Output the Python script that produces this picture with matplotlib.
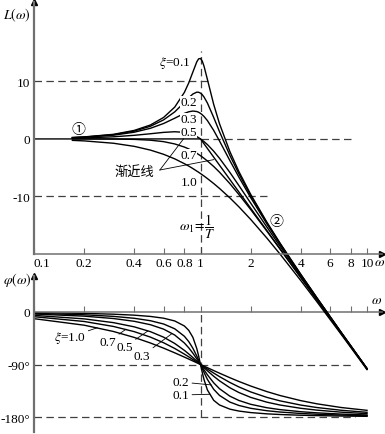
import matplotlib
matplotlib.use('Agg')
import matplotlib.pyplot as plt
from matplotlib.ticker import NullLocator

# Bode plot of a second order lag, magnitude (top) and phase (bottom)

plt.rcParams['font.family'] = ['Liberation Serif', 'Noto Sans CJK SC', 'DejaVu Sans']
plt.rcParams['mathtext.fontset'] = 'stix'
plt.rcParams['axes.unicode_minus'] = False
plt.rcParams['font.size'] = 9.5

ZETA_LABELS = ['0.1', '0.2', '0.3', '0.5', '0.7', '1.0']

# magnitude L(w) in dB
W_MAG = [0.17, 0.2, 0.3, 0.4, 0.5, 0.6, 0.7, 0.8, 0.85, 0.9, 0.95, 0.975, 1.0, 1.025, 1.05,
         1.1, 1.2, 1.3, 1.5, 1.7, 2.0, 2.5, 3.0, 4.0, 5.0, 7.0, 10.0]
L_Z01 = [0.25, 0.35, 0.80, 1.48, 2.42, 3.73, 5.53, 8.09, 9.75, 11.64, 13.41, 13.93, 13.98, 13.51, 12.63,
         10.34, 6.00, 2.65, -2.18, -5.67, -9.62, -14.44, -18.09, -23.53, -27.61, -33.63, -39.91]
L_Z02 = [0.23, 0.32, 0.74, 1.36, 2.20, 3.31, 4.70, 6.35, 7.15, 7.81, 8.13, 8.11, 7.96, 7.68, 7.28,
         6.24, 3.73, 1.27, -2.84, -6.06, -9.84, -14.56, -18.16, -23.57, -27.63, -33.64, -39.92]
L_Z03 = [0.21, 0.29, 0.65, 1.17, 1.85, 2.68, 3.60, 4.44, 4.72, 4.85, 4.76, 4.63, 4.44, 4.19, 3.90,
         3.19, 1.48, -0.35, -3.75, -6.64, -10.19, -14.74, -18.28, -23.63, -27.67, -33.66, -39.93]
L_Z05 = [0.12, 0.17, 0.37, 0.63, 0.90, 1.14, 1.25, 1.14, 0.97, 0.73, 0.40, 0.21, 0.00, -0.23, -0.47,
         -0.98, -2.13, -3.36, -5.81, -8.10, -11.14, -15.29, -18.63, -23.82, -27.79, -33.72, -39.96]
L_Z07 = [0.00, 0.00, -0.02, -0.08, -0.22, -0.47, -0.87, -1.41, -1.74, -2.11, -2.50, -2.71, -2.92, -3.14, -3.37,
         -3.83, -4.79, -5.78, -7.76, -9.66, -12.26, -16.00, -19.12, -24.09, -27.96, -33.80, -40.00]
L_Z10 = [-0.25, -0.34, -0.75, -1.29, -1.94, -2.67, -3.46, -4.30, -4.72, -5.15, -5.59, -5.80, -6.02, -6.24, -6.45,
         -6.89, -7.75, -8.60, -10.24, -11.80, -13.98, -17.21, -20.00, -24.61, -28.30, -33.98, -40.09]

# asymptote: 0 dB then -40 dB/dec
W_ASYM = [0.1, 1.0, 10.0]
L_ASYM = [0.0, 0.0, -40.0]

# phase in degrees
W_PH = [0.1, 0.2, 0.3, 0.4, 0.5, 0.6, 0.7, 0.8, 0.85, 0.9, 0.95, 0.975, 1.0, 1.025,
        1.05, 1.1, 1.2, 1.3, 1.5, 1.7, 2.0, 2.5, 3.0, 4.0, 5.0, 7.0, 10.0]
PHI_Z01 = [-1.16, -2.39, -3.77, -5.44, -7.60, -10.62, -15.35, -23.96, -31.49, -43.45, -62.83, -75.79, -90.0,
           -103.87, -116.02, -133.67, -151.39, -159.35, -166.50, -169.80, -172.40, -174.56, -175.71,
           -176.95, -177.61, -178.33, -178.84]
PHI_Z02 = [-2.31, -4.76, -7.51, -10.78, -14.93, -20.56, -28.77, -41.63, -50.79, -62.18, -75.61, -82.78, -90.0,
           -97.04, -103.71, -115.51, -132.51, -143.00, -154.36, -160.21, -165.07, -169.22, -171.47,
           -173.91, -175.24, -176.66, -177.69]
PHI_Z03 = [-3.47, -7.13, -11.19, -15.95, -21.80, -29.36, -39.47, -53.13, -61.45, -70.61, -80.29, -85.18, -90.0,
           -94.71, -99.24, -107.65, -121.43, -131.50, -144.25, -151.64, -158.20, -164.05, -167.32,
           -170.91, -172.87, -175.00, -176.53]
PHI_Z05 = [-5.77, -11.77, -18.24, -25.46, -33.69, -43.15, -53.92, -65.77, -71.92, -78.08, -84.14, -87.10, -90.0,
           -92.83, -95.58, -100.81, -110.14, -117.96, -129.81, -138.03, -146.31, -154.54, -159.44,
           -165.07, -168.23, -171.70, -174.23]
PHI_Z07 = [-8.05, -16.26, -24.78, -33.69, -43.03, -52.70, -62.51, -72.18, -76.87, -81.42, -85.81, -87.93, -90.0,
           -92.02, -93.99, -97.77, -104.68, -110.76, -120.76, -128.45, -136.97, -146.31, -152.30,
           -159.53, -163.74, -168.46, -171.95]
PHI_Z10 = [-11.42, -22.62, -33.40, -43.60, -53.13, -61.93, -70.00, -77.32, -80.73, -83.97, -87.06, -88.55, -90.0,
           -91.41, -92.79, -95.45, -100.39, -104.86, -112.62, -119.07, -126.87, -136.40, -143.13,
           -151.93, -157.38, -163.74, -168.58]

X_TICKS = [0.1, 0.2, 0.4, 0.6, 0.8, 1, 2, 4, 6, 8, 10]
X_TICKLABELS = ['0.1', '0.2', '0.4', '0.6', '0.8', '1', '2', '4', '6', '8', '10']

AXIS_C = '#707070'
DASH = dict(color='#404040', lw=0.9, dashes=(6, 3.5))
W, H = 385, 435

fig = plt.figure(figsize=(3.85, 4.35), dpi=100)
ax1 = fig.add_axes([34 / W, (H - 255) / H, (382 - 34) / W, (255 - 3) / H])
ax2 = fig.add_axes([34 / W, (H - 433) / H, (382 - 34) / W, (433 - 277) / H])
ax1.set_zorder(3)
ax1.patch.set_visible(False)

for ax in (ax1, ax2):
    ax.set_xscale('log')
    ax.set_xlim(0.1, 12.3)
    ax.spines['top'].set_visible(False)
    ax.spines['right'].set_visible(False)
    ax.spines['left'].set_color(AXIS_C)
    ax.spines['left'].set_linewidth(1.6)
    ax.spines['bottom'].set_color(AXIS_C)
    ax.spines['bottom'].set_linewidth(1.1)
    ax.xaxis.set_minor_locator(NullLocator())
    ax.tick_params(axis='x', direction='in', length=4, width=0.8, color=AXIS_C, pad=2,
                   labelsize=9.5)
    ax.tick_params(axis='y', length=0, pad=3, labelsize=9.5)
    ax.plot(0, 1, '^', color='k', ms=4.5, transform=ax.transAxes, clip_on=False)

ax1.set_ylim(-20.0, 23.8)
ax2.set_ylim(-205.7, 61.7)
ax2.spines['bottom'].set_position(('data', 0))

ax1.plot(1, 0, '>', color='k', ms=4.5, transform=ax1.transAxes, clip_on=False)
ax2.plot(1, 0, '>', color='k', ms=4.5, transform=ax2.get_yaxis_transform(), clip_on=False)

ax1.set_xticks(X_TICKS, X_TICKLABELS)
ax1.get_xticklabels()[0].set_horizontalalignment('left')
ax2.set_xticks(X_TICKS, [''] * len(X_TICKS))
ax1.set_yticks([10, 0, -10], ['10', '0', '-10'])
ax2.set_yticks([0, -90, -180], ['0', '-90°', '-180°'])

# ---- magnitude
ax1.plot([0.1, 1.15], [10, 10], **DASH)
ax1.plot([1.0, 8.5], [0, 0], **DASH)
ax1.plot([0.1, 2.5], [-10, -10], **DASH)
ax1.plot([1.0, 1.0], [-20, 15.3], **DASH)

ax1.plot(W_ASYM, L_ASYM, color='k', lw=1.0, clip_on=False)
for L in (L_Z01, L_Z02, L_Z03, L_Z05, L_Z07, L_Z10):
    ax1.plot(W_MAG, L, color='k', lw=1.0, clip_on=False)

box = dict(facecolor='white', edgecolor='none', pad=0.2)
ax1.text(0.87, 13.4, r'$\xi$=' + ZETA_LABELS[0], ha='right', va='center')
ax1.text(0.85, 6.4, ZETA_LABELS[1], ha='center', va='center', bbox=box)
ax1.text(0.85, 3.5, ZETA_LABELS[2], ha='center', va='center', bbox=box)
ax1.text(0.85, 1.2, ZETA_LABELS[3], ha='center', va='center', bbox=box)
ax1.text(0.85, -2.8, ZETA_LABELS[4], ha='center', va='center', bbox=box)
ax1.text(0.85, -7.5, ZETA_LABELS[5], ha='center', va='center')

ax1.text(0.40, -5.6, '渐近线', ha='center', va='center', fontsize=9.5)
ax1.plot([0.57, 0.79], [-5.4, 0.0], color='k', lw=0.6)
ax1.plot([0.57, 1.2], [-5.4, -3.6], color='k', lw=0.6)

ax1.text(0.184, 1.6, '①', ha='center', va='center', fontsize=10)
ax1.text(2.85, -14.3, '②', ha='center', va='center', fontsize=10)
ax1.text(0.95, -15.1, r'$\omega_1\!=\!\dfrac{1}{T}$', ha='center', va='center', fontsize=10)

# ---- phase
ax2.plot([0.1, 8.0], [-90, -90], **DASH)
ax2.plot([0.1, 8.5], [-180, -180], **DASH)
ax2.plot([1.0, 1.0], [-180, 0], **DASH)

for P in (PHI_Z01, PHI_Z02, PHI_Z03, PHI_Z05, PHI_Z07, PHI_Z10):
    ax2.plot(W_PH, P, color='k', lw=1.0)

lead = dict(arrowstyle='-', lw=0.6, color='k', shrinkA=0, shrinkB=0)
ax2.annotate(r'$\xi$=' + ZETA_LABELS[5], xy=(0.24, -27), xytext=(0.164, -42.9),
             ha='center', va='center', arrowprops=lead)
ax2.annotate(ZETA_LABELS[4], xy=(0.357, -29.5), xytext=(0.278, -51.4),
             ha='center', va='center', arrowprops=lead)
ax2.annotate(ZETA_LABELS[3], xy=(0.483, -32.5), xytext=(0.35, -60),
             ha='center', va='center', arrowprops=lead)
ax2.annotate(ZETA_LABELS[2], xy=(0.674, -37), xytext=(0.445, -75.4),
             ha='center', va='center', arrowprops=lead)
ax2.annotate(ZETA_LABELS[1], xy=(1.16, -125), xytext=(0.763, -120),
             ha='center', va='center', arrowprops=lead)
ax2.annotate(ZETA_LABELS[0], xy=(1.14, -141), xytext=(0.763, -142.3),
             ha='center', va='center', arrowprops=lead)

# axis names
fig.text(17 / W, 1 - 15 / H, r'$L(\omega)$', ha='center', va='center', fontsize=10)
fig.text(17 / W, 1 - 280 / H, r'$\varphi(\omega)$', ha='center', va='center', fontsize=10)
fig.text(380 / W, 1 - 263 / H, r'$\omega$', ha='center', va='center', fontsize=10)
fig.text(377 / W, 1 - 301 / H, r'$\omega$', ha='center', va='center', fontsize=10)

fig.savefig('out.png', dpi=100)
